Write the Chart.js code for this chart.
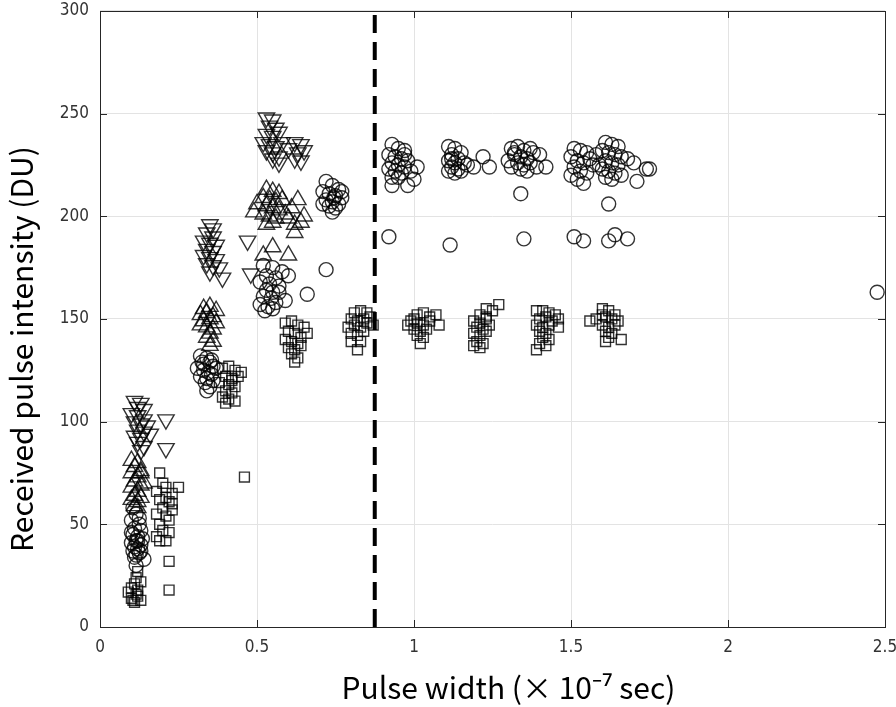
<!DOCTYPE html>
<html>
<head>
<meta charset="utf-8">
<script src="https://cdn.jsdelivr.net/npm/chart.js@4/dist/chart.umd.min.js"></script>
<style>
  html, body { margin: 0; padding: 0; background: #fff; }
  #wrap { width: 896px; height: 707px; }
</style>
</head>
<body>
<div id="wrap"><canvas id="chart" width="896" height="707"></canvas></div>
<script>
// circles
const circlePoints = [
  [0.105,58],[0.115,55],[0.10,52],[0.125,50],[0.11,48],[0.13,47],[0.105,45],[0.12,44],[0.115,42],[0.10,41],
  [0.13,40],[0.11,39],[0.12,38],[0.105,37],[0.125,36],[0.115,35],[0.11,34],[0.13,37],[0.12,42],[0.10,46],
  [0.14,33],[0.135,43],[0.115,30],[0.125,53],
  [0.32,132],[0.34,131],[0.33,128],[0.35,129],[0.36,127],[0.31,126],[0.33,125],[0.345,124],[0.355,123],[0.32,122],
  [0.34,121],[0.36,120],[0.335,119],[0.35,117],[0.37,126],[0.34,115],[0.325,129],[0.355,130],
  [0.52,176],[0.55,175],[0.58,173],[0.60,171],[0.53,171],[0.56,170],[0.51,168],[0.54,167],[0.57,166],[0.53,164],
  [0.55,163],[0.52,161],[0.545,160],[0.56,158],[0.51,157],[0.535,156],[0.55,155],[0.59,159],[0.57,163],[0.525,154],
  [0.72,174],[0.66,162],
  [0.72,217],[0.74,215],[0.76,213],[0.71,212],[0.73,211],[0.75,210],[0.77,209],[0.72,208],[0.74,207],[0.76,206],
  [0.73,205],[0.75,204],[0.74,202],[0.71,206],[0.77,212],[0.745,209],
  [0.93,235],[0.95,233],[0.97,232],[0.92,230],[0.94,229],[0.96,228],[0.98,227],[0.93,226],[0.95,225],[0.97,224],
  [0.92,223],[0.94,222],[0.96,221],[0.99,222],[0.95,219],[0.93,219],[1.01,224],[1.00,218],[0.93,215],[0.98,215],
  [0.97,230],[0.92,190],
  [1.11,234],[1.13,233],[1.15,231],[1.12,230],[1.14,228],[1.11,227],[1.13,226],[1.16,226],[1.12,224],[1.14,223],
  [1.11,222],[1.13,221],[1.15,222],[1.17,225],[1.19,224],[1.22,229],[1.24,224],[1.12,228],[1.115,186],
  [1.31,233],[1.33,234],[1.35,232],[1.37,233],[1.32,230],[1.34,229],[1.36,228],[1.38,231],[1.30,227],[1.33,226],
  [1.35,225],[1.37,226],[1.31,224],[1.34,223],[1.36,222],[1.40,230],[1.42,224],[1.39,224],[1.32,231],[1.34,211],
  [1.35,189],
  [1.51,233],[1.53,232],[1.55,231],[1.50,229],[1.52,227],[1.54,226],[1.56,228],[1.51,224],[1.53,222],[1.55,221],
  [1.50,220],[1.52,218],[1.54,216],[1.57,225],[1.58,230],
  [1.61,236],[1.63,235],[1.65,234],[1.60,232],[1.62,231],[1.64,230],[1.66,229],[1.61,227],[1.63,226],[1.65,225],
  [1.60,223],[1.62,222],[1.64,221],[1.61,219],[1.63,218],[1.66,220],[1.68,228],[1.70,226],[1.71,217],[1.74,223],
  [1.75,223],[1.59,225],[1.62,206],
  [1.51,190],[1.54,188],[1.62,188],[1.64,191],[1.68,189],
  [2.475,163]
];

// squares
const squarePoints = [
  [0.09,17],[0.10,14],[0.11,12],[0.12,15],[0.10,19],[0.11,21],[0.12,18],[0.105,13],[0.115,16],[0.13,13],
  [0.13,22],[0.12,27],[0.115,24],
  [0.19,75],[0.20,70],[0.18,66],[0.21,68],[0.23,65],[0.25,68],[0.19,62],[0.22,61],[0.20,58],[0.23,57],
  [0.18,55],[0.21,54],[0.22,52],[0.19,50],[0.20,47],[0.18,44],[0.22,46],[0.21,42],[0.19,42],[0.23,60],
  [0.21,63],[0.22,32],[0.22,18],
  [0.39,126],[0.41,127],[0.43,125],[0.40,122],[0.42,121],[0.44,122],[0.38,119],[0.41,118],[0.43,117],[0.40,115],
  [0.42,114],[0.39,112],[0.41,111],[0.43,110],[0.40,109],[0.42,120],[0.45,124],[0.46,73],
  [0.59,148],[0.61,149],[0.63,147],[0.65,146],[0.60,144],[0.62,143],[0.64,141],[0.59,140],[0.61,139],[0.63,138],
  [0.60,136],[0.62,135],[0.64,137],[0.61,133],[0.63,131],[0.62,129],[0.66,143],
  [0.81,153],[0.83,154],[0.85,153],[0.80,150],[0.82,149],[0.84,150],[0.86,151],[0.79,146],[0.81,147],[0.83,146],
  [0.85,148],[0.80,143],[0.82,142],[0.84,144],[0.80,139],[0.83,139],[0.82,135],[0.87,147],
  [1.01,152],[1.03,153],[1.05,151],[1.07,152],[0.99,149],[1.01,148],[1.03,147],[1.05,149],[0.98,147],[1.00,145],
  [1.02,144],[1.04,145],[1.08,147],[1.01,142],[1.03,141],[1.02,138],[1.00,150],
  [1.23,155],[1.25,154],[1.27,157],[1.21,152],[1.23,151],[1.19,149],[1.21,148],[1.23,150],[1.20,146],[1.22,145],
  [1.24,147],[1.19,143],[1.21,142],[1.23,144],[1.20,139],[1.22,138],[1.21,136],[1.19,137],
  [1.39,154],[1.41,154],[1.43,153],[1.45,152],[1.40,150],[1.42,151],[1.44,149],[1.46,150],[1.39,147],[1.41,146],
  [1.43,147],[1.40,144],[1.42,143],[1.41,141],[1.43,140],[1.40,138],[1.42,137],[1.39,135],[1.46,146],
  [1.60,155],[1.62,154],[1.64,152],[1.58,150],[1.61,151],[1.63,150],[1.65,149],[1.56,149],[1.60,147],[1.62,146],
  [1.64,147],[1.61,144],[1.63,143],[1.62,141],[1.61,139],[1.66,140],[1.60,152]
];

// upward triangles
const upPoints = [
  [0.10,81],[0.12,80],[0.11,78],[0.13,76],[0.10,75],[0.12,73],[0.11,71],[0.13,69],[0.10,68],[0.12,66],
  [0.11,64],[0.13,63],[0.10,62],[0.12,61],[0.11,59],[0.14,70],[0.12,58],[0.13,75],
  [0.33,155],[0.35,156],[0.37,154],[0.32,152],[0.34,153],[0.36,151],[0.33,149],[0.35,150],[0.37,148],[0.32,147],
  [0.34,146],[0.36,145],[0.35,143],[0.34,141],[0.36,139],[0.35,137],
  [0.53,213],[0.55,212],[0.57,211],[0.52,209],[0.54,208],[0.56,207],[0.58,208],[0.50,206],[0.53,205],[0.55,204],
  [0.57,203],[0.49,202],[0.52,201],[0.54,200],[0.56,199],[0.59,201],[0.61,204],[0.63,208],[0.65,200],[0.62,196],
  [0.64,197],[0.53,196],[0.55,197],[0.60,199],[0.55,185],[0.52,181],[0.60,181],[0.62,192]
];

// downward triangles
const downPoints = [
  [0.11,110],[0.13,109],[0.12,107],[0.14,106],[0.10,104],[0.12,103],[0.14,101],[0.11,100],[0.13,99],[0.15,98],
  [0.12,96],[0.14,95],[0.11,93],[0.13,92],[0.12,90],[0.14,88],[0.13,86],[0.16,94],[0.21,101],[0.21,87],
  [0.35,196],[0.36,194],[0.34,192],[0.36,190],[0.33,188],[0.35,187],[0.37,186],[0.34,184],[0.36,183],[0.33,181],
  [0.35,180],[0.37,179],[0.34,177],[0.36,176],[0.38,175],[0.35,173],[0.39,170],
  [0.53,248],[0.55,247],[0.54,244],[0.56,243],[0.53,240],[0.55,239],[0.57,241],[0.52,236],[0.54,235],[0.56,234],
  [0.58,236],[0.53,232],[0.55,231],[0.57,229],[0.60,233],[0.62,236],[0.64,235],[0.63,231],[0.65,232],[0.62,228],
  [0.64,227],[0.57,226],[0.55,228],
  [0.47,188],[0.48,172]
];

const thresholdX = 0.875;
const xTicks = [0, 0.5, 1, 1.5, 2, 2.5];
const yTicks = [0, 50, 100, 150, 200, 250, 300];
const xTitle = 'Pulse width (\u00d7 10\u207b\u2077 sec)';
const yTitle = 'Received pulse intensity (DU)';

const toXY = arr => arr.map(p => ({ x: p[0], y: p[1] }));
const ink = 'rgba(0,0,0,0.8)';
const titleFont = "30px 'Noto Sans CJK JP', 'Noto Sans', sans-serif";

// plot box taken from the scales themselves
function plotBox(chart) {
  const { x, y } = chart.scales;
  const left = Math.round(x.getPixelForValue(xTicks[0]));
  const right = Math.round(x.getPixelForValue(xTicks[xTicks.length - 1]));
  const top = Math.round(y.getPixelForValue(yTicks[yTicks.length - 1]));
  const bottom = Math.round(y.getPixelForValue(yTicks[0]));
  return { left, right, top, bottom, width: right - left, height: bottom - top };
}

const areaPlugin = {
  id: 'area',
  afterLayout(chart) { chart.chartArea = plotBox(chart); },
  beforeDraw(chart) { chart.chartArea = plotBox(chart); }
};

// box, inward tick marks and axis titles
const boxPlugin = {
  id: 'box',
  afterDraw(chart) {
    const { ctx, scales } = chart;
    const a = plotBox(chart);
    ctx.save();
    ctx.strokeStyle = '#262626';
    ctx.lineWidth = 1;
    ctx.strokeRect(a.left + 0.5, a.top + 0.5, a.width, a.height);
    ctx.beginPath();
    xTicks.forEach(v => {
      const px = Math.round(scales.x.getPixelForValue(v)) + 0.5;
      ctx.moveTo(px, a.bottom); ctx.lineTo(px, a.bottom - 7);
      ctx.moveTo(px, a.top); ctx.lineTo(px, a.top + 7);
    });
    yTicks.forEach(v => {
      const py = Math.round(scales.y.getPixelForValue(v)) + 0.5;
      ctx.moveTo(a.left, py); ctx.lineTo(a.left + 7, py);
      ctx.moveTo(a.right, py); ctx.lineTo(a.right - 7, py);
    });
    ctx.stroke();

    ctx.fillStyle = '#000';
    ctx.font = titleFont;
    ctx.textAlign = 'center';
    ctx.textBaseline = 'middle';
    ctx.fillText(xTitle, (a.left + a.right) / 2 + 16, 688);
    ctx.translate(22, (a.top + a.bottom) / 2 + 30);
    ctx.rotate(-Math.PI / 2);
    ctx.fillText(yTitle, 0, 0);
    ctx.restore();
  }
};

const markerSet = (data, style, radius, rotation) => ({
  type: 'scatter',
  data: toXY(data),
  pointStyle: style,
  pointRadius: radius,
  pointRotation: rotation || 0,
  pointBorderWidth: 1.4,
  borderColor: ink,
  pointBorderColor: ink,
  pointBackgroundColor: 'rgba(0,0,0,0)',
  backgroundColor: 'rgba(0,0,0,0)',
  showLine: false
});

const tickFont = { family: "'Liberation Sans Narrow', 'DejaVu Sans Condensed', 'Liberation Sans', sans-serif", size: 17 };

new Chart(document.getElementById('chart'), {
  data: {
    datasets: [
      markerSet(circlePoints, 'circle', 7),
      markerSet(squarePoints, 'rect', 7),
      markerSet(upPoints, 'triangle', 9.5),
      markerSet(downPoints, 'triangle', 9.5, 180),
      {
        type: 'line',
        data: [{ x: thresholdX, y: 0 }, { x: thresholdX, y: 300 }],
        borderColor: '#000',
        borderWidth: 4,
        borderDash: [18, 9],
        pointRadius: 0,
        fill: false
      }
    ]
  },
  options: {
    responsive: false,
    animation: false,
    layout: { padding: 0 },
    plugins: { legend: { display: false }, tooltip: { enabled: false } },
    scales: {
      x: {
        type: 'linear', min: 0, max: 2.5,
        afterBuildTicks: s => { s.ticks = xTicks.map(v => ({ value: v })); },
        afterFit: s => { s.height = 80; s.paddingLeft = 0; s.paddingRight = 11; },
        grid: { color: '#e3e3e3', drawTicks: false },
        border: { display: false },
        ticks: { padding: 10, color: '#333', font: tickFont, callback: v => String(v) }
      },
      y: {
        type: 'linear', min: 0, max: 300,
        afterBuildTicks: s => { s.ticks = yTicks.map(v => ({ value: v })); },
        afterFit: s => { s.width = 100; s.paddingTop = 8; s.paddingBottom = 0; },
        grid: { color: '#e3e3e3', drawTicks: false },
        border: { display: false },
        ticks: { padding: 11, color: '#333', font: tickFont }
      }
    }
  },
  plugins: [areaPlugin, boxPlugin]
});
</script>
</body>
</html>
